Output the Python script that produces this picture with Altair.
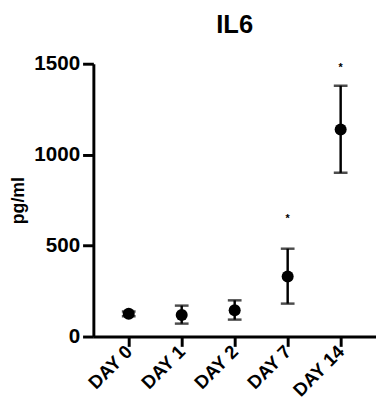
import altair as alt
import pandas as pd

days = ["DAY 0", "DAY 1", "DAY 2", "DAY 7", "DAY 14"]
means = [125, 118, 145, 330, 1138]
lows = [112, 71, 93, 181, 900]
highs = [138, 170, 199, 483, 1379]
stars = ["", "", "", "*", "*"]
star_pos = [None, None, None, 664, 1492]

df = pd.DataFrame({"day": days, "mean": means, "lo": lows, "hi": highs})
df_star = pd.DataFrame({"day": days, "star": stars, "pos": star_pos}).dropna()

FONT = "Liberation Sans"

x_scale = alt.Scale(type="point", padding=0.667)
x_axis = alt.Axis(
    labelAngle=-45, labelAlign="right", labelBaseline="middle",
    labelFont=FONT, labelFontSize=19, labelFontWeight="bold", labelColor="black",
    tickSize=10, tickWidth=3, tickColor="black",
    domainWidth=3, domainColor="black", labelPadding=2, grid=False,
)
y_scale = alt.Scale(domain=[0, 1500], nice=False)
y_axis = alt.Axis(
    values=[0, 500, 1000, 1500], title="pg/ml", format="d",
    titleFont=FONT, titleFontSize=18, titleFontWeight="bold", titleColor="black",
    titleX=-76, titleY=139, titleAngle=-90, titleAlign="center", titleBaseline="middle",
    labelFont=FONT, labelFontSize=21, labelFontWeight="bold", labelColor="black",
    labelPadding=3, tickSize=11, tickWidth=3, tickColor="black",
    domainWidth=3, domainColor="black", grid=False,
)


def xe():
    return alt.X("day:N", sort=days, title=None, scale=x_scale, axis=x_axis)


def ye(field):
    return alt.Y(field, scale=y_scale, axis=y_axis)


base = alt.Chart(df)

rules = base.mark_rule(color="black", strokeWidth=2.5).encode(
    x=xe(), y=ye("lo:Q"), y2="hi:Q"
)
cap_lo = base.mark_tick(orient="horizontal", size=14, thickness=2.5, color="black").encode(
    x=xe(), y=ye("lo:Q")
)
cap_hi = base.mark_tick(orient="horizontal", size=14, thickness=2.5, color="black").encode(
    x=xe(), y=ye("hi:Q")
)
points = base.mark_point(filled=True, size=150, color="black", opacity=1, shape="circle").encode(
    x=xe(), y=ye("mean:Q")
)
star_text = alt.Chart(df_star).mark_text(
    font=FONT, fontSize=11, fontWeight="bold", color="black", baseline="middle", dy=3
).encode(
    x=xe(), y=ye("pos:Q"), text="star:N",
)

chart = alt.layer(rules, cap_lo, cap_hi, points, star_text).properties(
    width=288, height=278,
    background="white",
    title=alt.TitleParams("IL6", font=FONT, fontSize=26, fontWeight="bold", color="black",
                          anchor="middle", frame="group", offset=15),
    autosize=alt.AutoSizeParams(type="none"),
    padding={"left": 87, "top": 53, "right": 0, "bottom": 67},
).configure_view(stroke="transparent", strokeWidth=0).configure_axis(grid=False)

chart.save("out.html", embed_options={"renderer": "svg", "actions": False})
